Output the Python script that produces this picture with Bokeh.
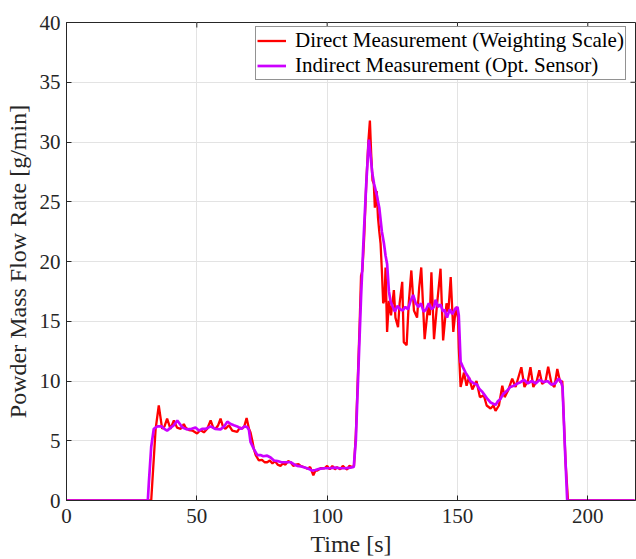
import math
from bokeh.plotting import figure
from bokeh.models import Range1d, Legend, LegendItem, FixedTicker
from bokeh.embed import file_html
from bokeh.resources import INLINE

# ---- data ----
t_direct = [0, 32.5, 33.2, 34.2, 35.4, 36.7, 37.6, 38.6, 39.9, 41.2, 42.4, 43.8, 45.0, 45.7, 47.0,
            48.3, 50.1, 51.4, 52.7, 54.0, 55.3, 56.3, 57.2, 58.2, 59.1, 60.0, 61.0, 62.3, 63.6,
            65.5, 66.5, 67.4, 68.2, 69.1, 70.0, 70.6, 71.3, 71.9, 72.6, 73.8, 75.0, 76.0, 77.0,
            78.0, 79.0, 80.0, 81.0, 82.1, 83.0, 84.0, 85.0, 86.0, 87.0, 88.0, 89.0, 89.8, 91.0,
            92.4, 93.5, 94.7, 95.5, 96.2, 97.5, 99.0, 100.0, 101.0, 102.0, 103.0, 103.8, 105.0,
            106.0, 107.0, 107.7, 108.5, 109.6, 110.3, 111.0, 111.8, 112.5, 113.0, 113.5, 114.2,
            115.0, 115.8, 116.4, 116.9, 117.4, 117.9, 118.3, 119.0, 119.5, 120.0, 120.5, 121.0,
            121.5, 122.0, 122.4, 123.0, 123.7, 124.5, 125.6, 126.2, 127.2, 127.8, 128.8, 129.4,
            130.5, 131.3, 132.3, 133.3, 134.5, 135.3, 136.1, 137.4, 138.7, 139.4, 140.0, 141.0,
            142.2, 143.5, 144.5, 145.8, 146.5, 147.4, 148.4, 149.4, 150.2, 150.5, 151.2, 152.5,
            153.5, 154.4, 155.7, 157.3, 158.6, 160.1, 161.2, 162.7, 163.8, 164.6, 165.9, 167.2,
            168.1, 169.4, 171.0, 172.3, 174.5, 175.7, 177.0, 178.0, 179.1, 180.4, 181.4, 182.5,
            183.8, 184.8, 186.1, 187.2, 188.3, 189.4, 190.2, 191.5, 192.4, 218.0]
y_direct = [0, 0, 2.5, 6.0, 7.95, 6.0, 6.2, 6.85, 6.0, 6.7, 6.1, 6.0, 6.4, 6.1, 5.9,
            5.85, 5.6, 5.9, 5.7, 6.0, 6.7, 6.1, 6.0, 6.3, 6.85, 6.2, 6.0, 6.3, 5.85,
            5.75, 6.1, 6.0, 6.2, 6.9, 6.0, 5.7, 5.0, 4.3, 3.8, 3.35, 3.4, 3.2, 3.2,
            3.35, 3.1, 3.3, 3.0, 2.9, 3.1, 3.0, 3.3, 3.2, 2.9, 3.0, 3.05, 2.9, 2.8,
            2.65, 2.8, 2.1, 2.5, 2.5, 2.7, 2.7, 2.9, 2.6, 2.9, 2.6, 2.8, 2.6,
            2.9, 2.7, 2.6, 2.9, 2.8, 2.9, 5.5, 10.5, 15.0, 18.8, 19.2, 22.0,
            26.5, 30.0, 31.8, 29.0, 26.8, 26.5, 24.5, 25.9, 23.7, 22.5, 21.5, 19.2,
            16.5, 16.8, 19.5, 14.1, 16.7, 15.5, 17.6, 15.3, 14.5, 16.5, 18.3, 13.25,
            13.0, 16.5, 19.25, 15.9, 15.3, 17.8, 19.5, 13.5, 16.2, 15.5, 19.1, 13.5,
            16.5, 19.4, 13.4, 16.5, 15.8, 18.7, 14.1, 16.2, 15.3, 12.8, 9.5, 10.7,
            9.6, 10.3, 9.3, 10.0, 8.65, 8.8, 7.95, 7.7, 7.95, 7.5, 7.95, 9.6,
            8.65, 9.2, 10.2, 9.5, 11.15, 9.5, 10.0, 11.15, 9.5, 10.0, 10.9, 9.75,
            10.0, 11.2, 9.75, 9.5, 11.0, 9.9, 10.0, 3.1, 0, 0]

t_indirect = [0, 31.2, 31.6, 32.5, 33.5, 34.9, 36.5, 37.5, 38.6, 40.0, 41.2, 42.5, 43.5, 44.5,
              46.3, 48.0, 49.5, 50.8, 52.0, 53.5, 55.3, 57.0, 59.1, 60.5, 61.7, 63.0, 64.2,
              65.5, 67.0, 68.3, 69.3, 70.0, 70.6, 71.9, 73.2, 74.4, 75.5, 77.0, 78.3, 79.6,
              81.0, 82.5, 84.0, 86.0, 87.5, 88.5, 90.0, 92.4, 94.3, 95.5, 97.0, 99.0, 101.0,
              103.0, 105.0, 107.0, 109.0, 110.2, 111.0, 112.0, 113.0, 114.0, 115.0, 116.0,
              116.6, 117.3, 118.0, 119.0, 120.0, 121.0, 121.8, 122.4, 123.0, 123.7, 124.3,
              125.0, 126.0, 127.0, 128.0, 129.0, 130.0, 131.0, 132.0, 133.0, 134.0, 135.0,
              136.0, 137.0, 138.0, 139.0, 140.0, 141.0, 141.6, 142.5, 143.5, 144.5, 145.0,
              146.0, 147.0, 148.0, 149.0, 150.0, 150.5, 151.2, 152.0, 153.1, 154.0, 155.0,
              156.3, 157.5, 158.5, 159.5, 160.5, 161.5, 162.7, 164.6, 165.5, 166.5, 167.5,
              169.1, 170.3, 171.6, 173.0, 174.2, 175.5, 177.0, 178.5, 180.0, 181.5, 183.0,
              184.5, 186.0, 187.5, 188.8, 189.6, 190.3, 191.2, 192.1, 218.0]
y_indirect = [0, 0, 1.5, 4.5, 6.0, 6.2, 6.2, 6.0, 5.85, 6.1, 6.3, 6.7, 6.4, 6.1,
              5.95, 6.0, 6.1, 5.85, 6.0, 6.0, 6.2, 6.0, 5.95, 6.2, 6.6, 6.4, 6.3,
              6.2, 6.0, 6.2, 6.15, 5.9, 4.9, 4.3, 3.8, 3.8, 3.7, 3.75, 3.6, 3.35,
              3.3, 3.2, 3.2, 3.2, 3.0, 2.9, 2.85, 2.7, 2.5, 2.55, 2.65, 2.7, 2.7,
              2.75, 2.7, 2.7, 2.75, 2.8, 5.0, 11.0, 17.0, 22.0, 26.5, 30.2,
              29.0, 27.4, 26.5, 25.6, 24.5, 22.5, 21.5, 20.5, 19.8, 17.5, 16.7,
              16.3, 15.8, 16.3, 16.0, 15.9, 16.2, 16.0, 16.7, 17.2, 16.5, 16.2,
              16.5, 15.8, 16.0, 16.5, 16.0, 16.2, 16.8, 16.2, 16.4, 15.8, 16.0,
              15.3, 16.0, 15.6, 16.0, 16.2, 15.5, 11.6, 11.2, 10.7, 10.4, 10.0,
              9.8, 9.7, 9.3, 9.1, 8.8, 8.5, 8.2, 8.0, 8.3, 8.5, 8.9,
              9.2, 9.5, 9.6, 9.8, 9.9, 10.1, 9.8, 10.0, 9.8, 10.1, 9.9,
              10.0, 9.7, 9.8, 10.2, 10.0, 9.5, 4.5, 0, 0]

x_ticks = [0, 50, 100, 150, 200]
y_ticks = [0, 5, 10, 15, 20, 25, 30, 35, 40]
labels = ["Direct Measurement (Weighting Scale)", "Indirect Measurement (Opt. Sensor)"]

FONT = "Liberation Serif"
AX = "#262626"
X_MAX, Y_MAX = 218.3, 40

p = figure(frame_width=569, frame_height=478, output_backend="svg", toolbar_location=None,
           x_range=Range1d(0, X_MAX), y_range=Range1d(0, Y_MAX),
           min_border_left=66, min_border_right=1, min_border_top=22, min_border_bottom=0,
           background_fill_color="white", border_fill_color="white")
p.outline_line_color = AX
p.outline_line_width = 1

p.xgrid.ticker = FixedTicker(ticks=x_ticks)
p.ygrid.ticker = FixedTicker(ticks=y_ticks)
p.grid.grid_line_color = "#e3e3e3"
p.grid.grid_line_width = 1

r1 = p.line(t_direct, y_direct, line_color="#FF0000", line_width=2.3)
r2 = p.line(t_indirect, y_indirect, line_color="#CC00FF", line_width=2.7)

# inward ticks on the top and right box edges (MATLAB "box on")
p.ray(x=x_ticks, y=[Y_MAX] * len(x_ticks), length=5, length_units="screen",
      angle=-math.pi / 2, line_color=AX, line_width=1)
p.ray(x=[X_MAX] * len(y_ticks), y=y_ticks, length=5, length_units="screen",
      angle=math.pi, line_color=AX, line_width=1)

for ax in (p.xaxis[0], p.yaxis[0]):
    ax.axis_line_color = AX
    ax.major_tick_line_color = AX
    ax.major_tick_in = 5
    ax.major_tick_out = 0
    ax.minor_tick_line_color = None
    ax.major_label_text_font = FONT
    ax.major_label_text_font_size = "21px"
    ax.major_label_text_color = AX
    ax.axis_label_text_font = FONT
    ax.axis_label_text_font_size = "24px"
    ax.axis_label_text_font_style = "normal"
    ax.axis_label_text_color = AX

p.xaxis[0].ticker = FixedTicker(ticks=x_ticks)
p.yaxis[0].ticker = FixedTicker(ticks=y_ticks)
p.xaxis[0].axis_label = "Time [s]"
p.yaxis[0].axis_label = "Powder Mass Flow Rate [g/min]"
p.xaxis[0].major_label_standoff = 8
p.xaxis[0].axis_label_standoff = 5
p.yaxis[0].major_label_standoff = 6
p.yaxis[0].axis_label_standoff = 6

legend = Legend(items=[LegendItem(label=labels[0], renderers=[r1]),
                       LegendItem(label=labels[1], renderers=[r2])],
                location=(189, 420), padding=1, spacing=0,
                label_text_font=FONT, label_text_font_size="21px", label_text_color="#000000",
                label_height=21, glyph_width=29, glyph_height=21, label_standoff=9,
                border_line_color=AX, border_line_width=1,
                background_fill_color="white", background_fill_alpha=1)
p.add_layout(legend)

open("out.html", "w").write(file_html(p, INLINE))
